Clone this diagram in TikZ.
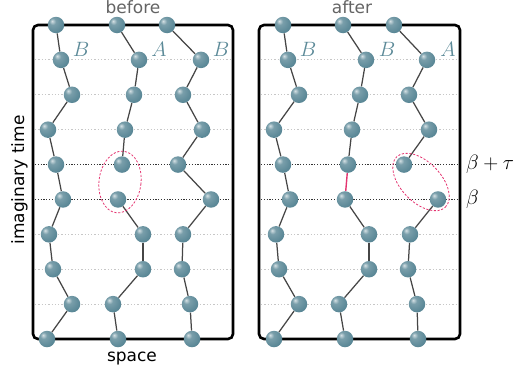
\documentclass[tikz,border=0pt]{standalone}
\usepackage{fontspec}
\setsansfont{DejaVu Sans}
\usetikzlibrary{calc}

\definecolor{beadcol}{RGB}{88,134,149}
\definecolor{labelcol}{RGB}{92,138,152}
\definecolor{linkcol}{RGB}{70,70,70}
\definecolor{ringcol}{RGB}{228,52,112}
\definecolor{capcol}{RGB}{100,100,100}

% soft glossy bead
\pgfdeclareradialshading{bead}{\pgfqpoint{-12bp}{12bp}}{%
  color(0bp)=(beadcol!25!white);
  color(10bp)=(beadcol!80!white);
  color(32bp)=(beadcol);
  color(58bp)=(beadcol!82!black);
  color(80bp)=(beadcol!82!black)}

\pgfdeclarelayer{bg}
\pgfsetlayers{bg,main}

\tikzset{
  bead/.style={circle, minimum size=16.5pt, inner sep=0pt, shading=bead},
  wl/.style={draw=linkcol, line width=1.25pt},
  jump/.style={draw=ringcol, line width=1.4pt},
  ring/.style={draw=ringcol, dashed, dash pattern=on 2.2pt off 1.6pt, line width=0.8pt},
  frame/.style={draw=black, line width=2.6pt, rounded corners=5pt},
  slice/.style={draw=black!22, line width=0.8pt, dash pattern=on 1.3pt off 2pt},
  cut/.style={draw=black!80, line width=0.8pt, dash pattern=on 1.2pt off 1.6pt},
  tag/.style={text=labelcol, font=\fontsize{20}{24}\selectfont, inner sep=0pt},
  caption/.style={font=\sffamily\fontsize{17}{20}\selectfont, inner sep=0pt, anchor=base},
}

\begin{document}
\begin{tikzpicture}[x=1pt, y=-1pt]
\useasboundingbox (0,0) rectangle (521,372);

% ---------- beads: before ----------
\foreach \x [count=\i from 0] in {56,61,72,48,56,63,49,53,72,47}
  \node[bead] (a\i) at (\x, {25+34.89*\i}) {};
\foreach \x [count=\i from 0] in {117,139,134,125,122,118,143,143,113,118}
  \node[bead] (b\i) at (\x, {25+34.89*\i}) {};
\foreach \x [count=\i from 0] in {167,201,183,202,178,211,183,182,190,192}
  \node[bead] (c\i) at (\x, {25+34.89*\i}) {};

% ---------- beads: after ----------
\foreach \x [count=\i from 0] in {283,288,299,274,283,290,276,279,299,274}
  \node[bead] (d\i) at (\x, {25+34.89*\i}) {};
\foreach \x [count=\i from 0] in {343,366,360,352,348,345,369,369,339,345}
  \node[bead] (e\i) at (\x, {25+34.89*\i}) {};
\foreach \x [count=\i from 0] in {394,427,409,429,404,438,410,408,417,418}
  \node[bead] (f\i) at (\x, {25+34.89*\i}) {};

% frame corners
\coordinate (lbl) at (33,25);  \coordinate (lbr) at (233,339);
\coordinate (rbl) at (259,25); \coordinate (rbr) at (460,339);

\begin{pgfonlayer}{bg}
  % time slices
  \foreach \k in {1,2,3,6,7,8} {
    \draw[slice] (35, {25+34.89*\k}) -- (231, {25+34.89*\k});
    \draw[slice] (261, {25+34.89*\k}) -- (458, {25+34.89*\k});
  }
  \foreach \k in {4,5} {
    \draw[cut] (35, {25+34.89*\k}) -- (231, {25+34.89*\k});
    \draw[cut] (261, {25+34.89*\k}) -- (460, {25+34.89*\k});
  }
  % frames
  \draw[frame] (lbl) rectangle (lbr);
  \draw[frame] (rbl) rectangle (rbr);

  % world lines
  \foreach \i [evaluate=\i as \j using int(\i+1)] in {0,...,8} {
    \draw[wl] (a\i) -- (a\j);
    \draw[wl] (c\i) -- (c\j);
    \draw[wl] (d\i) -- (d\j);
  }
  \foreach \i [evaluate=\i as \j using int(\i+1)] in {0,1,2,3,5,6,7,8} {
    \draw[wl] (b\i) -- (b\j);
    \draw[wl] (e\i) -- (e\j);
    \draw[wl] (f\i) -- (f\j);
  }
  % reconnected link
  \draw[jump] (e4) -- (e5);
\end{pgfonlayer}

% open links
\draw[ring, shift={($(b4)!0.5!(b5)$)}, rotate=-7] (0,0) ellipse (21pt and 31pt);
\draw[ring, shift={($(f4)!0.5!(f5)$)}, rotate=-46] (0,0) ellipse (35pt and 20pt);

% particle labels
\node[tag] (ta) at (81,49) {$B$};
\node[tag] (tb) at (159,49) {$A$};
\node[tag] (tc) at (221,49) {$B$};
\node[tag] (td) at (308,49) {$B$};
\node[tag] (te) at (387,49) {$B$};
\node[tag] (tf) at (448,49) {$A$};

% slice labels
\node[anchor=west, inner sep=0pt, font=\fontsize{20}{24}\selectfont] (bt) at (466,164) {$\beta+\tau$};
\node[anchor=west, inner sep=0pt, font=\fontsize{20}{24}\selectfont] (bb) at (466,199) {$\beta$};

% captions
\node[caption, text=capcol] (before) at (133,13.5) {before};
\node[caption, text=capcol] (after) at (352,13.5) {after};
\node[caption] (space) at (132,361) {space};
\node[caption, rotate=90] (itime) at (24,180) {imaginary time};
\end{tikzpicture}
\end{document}
